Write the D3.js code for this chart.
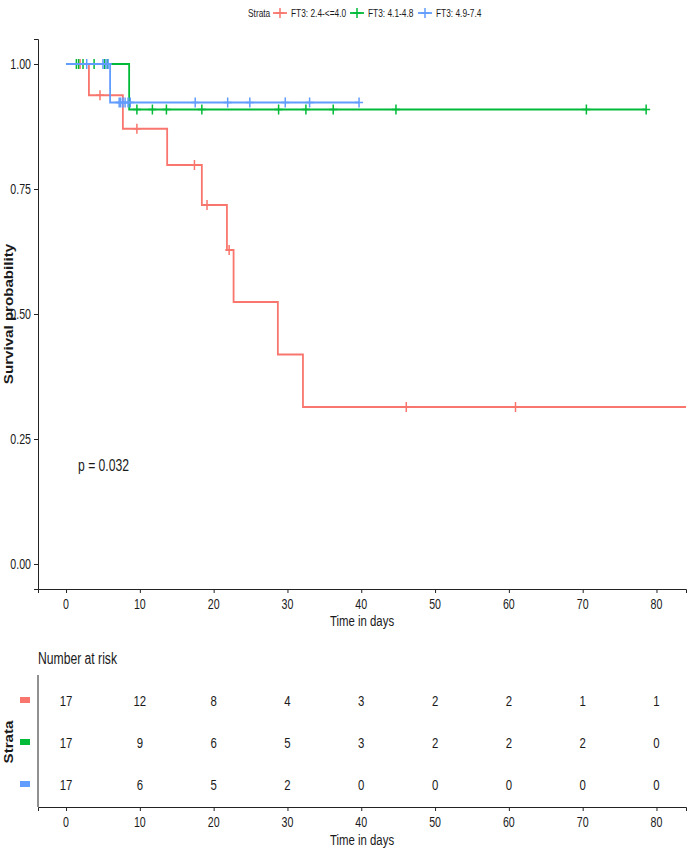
<!DOCTYPE html>
<html><head><meta charset="utf-8">
<script src="https://cdn.jsdelivr.net/npm/d3@7"></script>
<style>body{margin:0;background:#fff}svg{display:block}</style>
</head><body>
<svg id="c" width="688" height="855"></svg>
<script>
// ---------- data ----------
const strata = ["FT3: 2.4-<=4.0", "FT3: 4.1-4.8", "FT3: 4.9-7.4"];
const colors = ["#F8766D", "#00BA38", "#619CFF"];
// step curves: event times and survival after each step
const redTimes = [0, 3.1, 7.7, 13.7, 18.4, 21.8, 22.7, 28.7, 32.1];
const redSurv  = [1, 0.9375, 0.8705, 0.798, 0.718, 0.628, 0.524, 0.419, 0.314];
const redEnd = 86;
const redCensor = [1.9, 4.6, 9.6, 17.4, 19.1, 22.1, 46.1, 60.9];
const greenTimes = [0, 8.55];
const greenSurv  = [1, 0.909];
const greenEnd = 78.6;
const greenCensor = [1.4, 1.7, 2.3, 3.8, 5.2, 5.6, 9.6, 11.7, 13.6, 18.4, 28.8, 32.5, 36.2, 44.7, 70.5, 78.6];
const blueTimes = [0, 5.97];
const blueSurv  = [1, 0.923];
const blueEnd = 39.7;
const blueCensor = [2.8, 5.0, 5.4, 5.7, 7.2, 7.4, 7.7, 8.0, 8.4, 8.7, 17.5, 21.9, 24.9, 29.7, 33.0, 39.7];
const xTicks = [0, 10, 20, 30, 40, 50, 60, 70, 80];
const yTicks = [0, 0.25, 0.5, 0.75, 1];
const riskRed   = [17, 12, 8, 4, 3, 2, 2, 1, 1];
const riskGreen = [17, 9, 6, 5, 3, 2, 2, 2, 0];
const riskBlue  = [17, 6, 5, 2, 0, 0, 0, 0, 0];
const pText = "p = 0.032";

// ---------- setup ----------
const svg = d3.select("#c");
const FONT = "'Liberation Sans',Arial,sans-serif";
const SX = 0.76;   // reference text is horizontally compressed

function txt(parent, x, y, s, size, anchor, fill) {
  const g = parent.append("g").attr("transform", `translate(${x},${y}) scale(${SX},1)`);
  return g.append("text").attr("text-anchor", anchor || "middle")
    .style("font-family", FONT).style("font-size", size + "px")
    .attr("fill", fill || "#1a1a1a").text(s);
}
function vtxt(parent, x, y, s, size) {
  parent.append("g").attr("transform", `translate(${x},${y}) rotate(-90) scale(1.12,1)`)
    .append("text").attr("text-anchor","middle").style("font-family", FONT)
    .style("font-size", size + "px").style("font-weight","bold").attr("fill","#1a1a1a").text(s);
}

const x = d3.scaleLinear().domain([-3.8, 84]).range([38, 686]);
const y = d3.scaleLinear().domain([-0.05, 1.05]).range([589, 39]);

svg.append("clipPath").attr("id","clip").append("rect")
  .attr("x", 38).attr("y", 30).attr("width", 648).attr("height", 560);

// ---------- main plot axes ----------
const ax = svg.append("g").attr("transform","translate(0,589)")
  .call(d3.axisBottom(x).tickValues(xTicks).tickSize(4).tickFormat(d3.format("d")));
const ay = svg.append("g").attr("transform","translate(38,0)")
  .call(d3.axisLeft(y).tickValues(yTicks).tickSize(4).tickFormat(d3.format(".2f")));
[ax, ay].forEach(a => {
  a.select(".domain").attr("stroke","#222").attr("stroke-width",1);
  a.selectAll(".tick line").attr("stroke","#222");
  a.selectAll(".tick text").remove();
});
xTicks.forEach(t => txt(svg, x(t), 609, String(t), 14, "middle"));
yTicks.forEach(t => txt(svg, 31, y(t) + 5, d3.format(".2f")(t), 14, "end"));
txt(svg, 362, 626, "Time in days", 15, "middle");
vtxt(svg, 13, y(0.5), "Survival probability", 13.5);

// ---------- curves ----------
const curves = [
  {t: redTimes, s: redSurv, end: redEnd, c: redCensor},
  {t: greenTimes, s: greenSurv, end: greenEnd, c: greenCensor},
  {t: blueTimes, s: blueSurv, end: blueEnd, c: blueCensor}
];
const line = d3.line().x(d => x(d[0])).y(d => y(d[1])).curve(d3.curveStepAfter);
const plot = svg.append("g").attr("clip-path","url(#clip)");
function survAt(cv, tt) {
  let v = 1;
  cv.t.forEach((ti, i) => { if (ti <= tt) v = cv.s[i]; });
  return v;
}
curves.forEach((cv, i) => {
  const pts = cv.t.map((ti, k) => [ti, cv.s[k]]);
  pts.push([cv.end, cv.s[cv.s.length - 1]]);
  plot.append("path").attr("d", line(pts)).attr("fill","none")
    .attr("stroke", colors[i]).attr("stroke-width", 1.8);
  cv.c.forEach(ct => {
    const px = x(ct), py = y(survAt(cv, ct));
    plot.append("path").attr("d", `M${px-4},${py}H${px+4}M${px},${py-5}V${py+5}`)
      .attr("stroke", colors[i]).attr("stroke-width", 1.5).attr("fill","none");
  });
});

txt(svg, 78, 471, pText, 16, "start");

// ---------- legend ----------
const leg = svg.append("g");
const ly = 13;
txt(leg, 248, ly + 4, "Strata", 11, "start");
const keyX = [273, 350, 418];
strata.forEach((s, i) => {
  const lx = keyX[i];
  leg.append("path").attr("d", `M${lx},${ly}H${lx+14}`).attr("stroke", colors[i]).attr("stroke-width",1.8);
  leg.append("path").attr("d", `M${lx+7-4},${ly}H${lx+7+4}M${lx+7},${ly-5}V${ly+5}`)
    .attr("stroke", colors[i]).attr("stroke-width",1.5);
  txt(leg, lx + 18, ly + 4, s, 11, "start");
});

// ---------- risk table ----------
const ry = d3.scalePoint().domain(strata).range([700, 784]);
const tax = svg.append("g").attr("transform","translate(0,807)")
  .call(d3.axisBottom(x).tickValues(xTicks).tickSize(4));
tax.select(".domain").attr("stroke","#222");
tax.selectAll(".tick line").attr("stroke","#222");
tax.selectAll(".tick text").remove();
svg.append("line").attr("x1",38).attr("x2",38).attr("y1",675).attr("y2",807).attr("stroke","#222");
xTicks.forEach(t => txt(svg, x(t), 827, String(t), 14, "middle"));
txt(svg, 362, 845, "Time in days", 15, "middle");
txt(svg, 38, 664, "Number at risk", 16, "start");
[riskRed, riskGreen, riskBlue].forEach((row, i) => {
  const yy = ry(strata[i]);
  svg.append("rect").attr("x", 20).attr("y", yy - 3).attr("width", 10).attr("height", 6).attr("fill", colors[i]);
  row.forEach((v, k) => txt(svg, x(xTicks[k]), yy + 5.5, String(v), 15, "middle"));
});
vtxt(svg, 13, 742, "Strata", 13.5);
</script>
</body></html>
